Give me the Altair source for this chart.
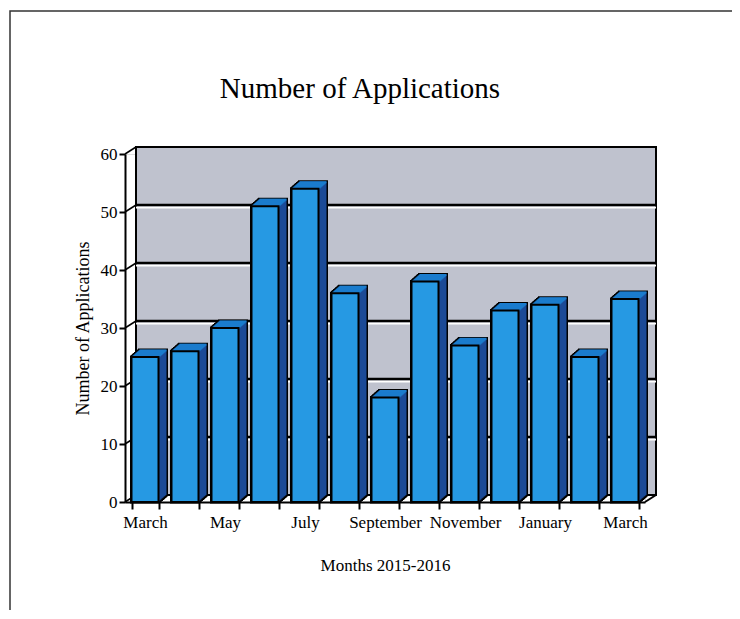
import json
import altair as alt
import pandas as pd

# ---------------- data ----------------
months = ["March", "April", "May", "June", "July", "August", "September",
          "October", "November", "December", "January", "February", "March"]
years = [2015, 2015, 2015, 2015, 2015, 2015, 2015, 2015, 2015, 2015, 2016, 2016, 2016]
values = [25, 26, 30, 51, 54, 36, 18, 38, 27, 33, 34, 25, 35]
y_ticks = [0, 10, 20, 30, 40, 50, 60]
labelled = ["March 2015", "May 2015", "July 2015", "September 2015",
            "November 2015", "January 2016", "March 2016"]
title_text = "Number of Applications"

keys = [f"{m} {y}" for m, y in zip(months, years)]
df = pd.DataFrame({"key": keys, "value": values, "zero": [0] * len(values)})
grid_df = pd.DataFrame({"v": y_ticks})
inner_grid_df = pd.DataFrame({"v": y_ticks[1:-1]})
wall_df = pd.DataFrame({"top": [y_ticks[-1]], "bottom": [y_ticks[0]]})

# ---------------- style ----------------
W, H = 520, 348
DX, DY = 11, 7          # depth of the back wall
BDX, BDY = 8, 7         # depth of each column
STEPS = 8
FONT = "Liberation Serif"
FRONT = "#2699e3"
TOP = "#1b7ccd"
SIDE = "#1b4a97"
WALL = "#bfc2ce"

xscale = alt.Scale(paddingInner=0.325, paddingOuter=0.1625)
yscale = alt.Scale(domain=[0, 60], nice=False, zero=True)

label_expr = ("indexof(%s, datum.value) >= 0 ? split(datum.value, ' ')[0] : ''"
              % json.dumps(labelled))

x_axis = alt.Axis(title="Months 2015-2016", labelExpr=label_expr, labelAngle=0,
                  tickBand="extent", labelOverlap=False, labelFont=FONT,
                  labelFontSize=17, labelColor="black", labelPadding=5,
                  titleFont=FONT, titleFontSize=17, titleFontWeight="normal",
                  titleColor="black", titlePadding=27, domainColor="black",
                  domainWidth=2, tickColor="black", tickWidth=2, tickSize=7,
                  grid=False)
y_axis = alt.Axis(values=y_ticks, title="Number of Applications", grid=False,
                  labelFont=FONT, labelFontSize=17, labelColor="black",
                  labelPadding=2, titleFont=FONT, titleFontSize=18,
                  titleFontWeight="normal", titleColor="black", titlePadding=8,
                  domainColor="black", domainWidth=2, tickColor="black",
                  tickWidth=2, tickSize=6)

X = alt.X("key:N", sort=keys, scale=xscale, axis=x_axis)
Yv = alt.Y("value:Q", scale=yscale, axis=y_axis)
Yg = alt.Y("v:Q", scale=yscale, axis=y_axis)

layers = []

# page frame (decorative)
layers.append(alt.Chart(wall_df).mark_rect(filled=False, stroke="#333", strokeWidth=1.5).encode(
    x=alt.value(-115), x2=alt.value(W + 300), y=alt.value(-143), y2=alt.value(H + 300)))

# chart title
layers.append(alt.Chart(wall_df).mark_text(
    text=title_text, font=FONT, fontSize=29, color="black",
    align="center", baseline="alphabetic").encode(
    x=alt.value(235), y=alt.value(-56)))

# back wall
layers.append(alt.Chart(wall_df).mark_rect(
    fill=WALL, stroke="black", strokeWidth=2,
    xOffset=DX, x2Offset=DX, yOffset=-DY, y2Offset=-DY).encode(
    x=alt.value(0), x2=alt.value(W),
    y=alt.Y("top:Q", scale=yscale, axis=y_axis), y2=alt.Y2("bottom")))

# grid lines on the back wall with white highlight
layers.append(alt.Chart(inner_grid_df).mark_rule(
    stroke="white", strokeWidth=2, xOffset=DX, x2Offset=DX, yOffset=-DY + 2.5).encode(
    y=Yg, x=alt.value(0), x2=alt.value(W)))
layers.append(alt.Chart(inner_grid_df).mark_rule(
    stroke="black", strokeWidth=2.5, xOffset=DX, x2Offset=DX, yOffset=-DY).encode(
    y=Yg, x=alt.value(0), x2=alt.value(W)))

# diagonal lines on the left wall
layers.append(alt.Chart(grid_df).mark_rule(stroke="black", strokeWidth=1.5, y2Offset=-DY).encode(
    y=Yg, y2=alt.Y2("v"), x=alt.value(0), x2=alt.value(DX)))
# bottom-right floor edge
layers.append(alt.Chart(wall_df).mark_rule(stroke="black", strokeWidth=2, y2Offset=-DY).encode(
    y=alt.Y("bottom:Q", scale=yscale, axis=y_axis), y2=alt.Y2("bottom"),
    x=alt.value(W), x2=alt.value(W + DX)))

# black silhouette (outline) of the 3D columns
for i in range(0, STEPS + 1):
    ox = i * BDX / STEPS
    oy = -i * BDY / STEPS
    layers.append(alt.Chart(df).mark_bar(
        fill="black", stroke="black", strokeWidth=3,
        xOffset=ox, x2Offset=ox, yOffset=oy, y2Offset=oy).encode(
        x=X, y=Yv, y2=alt.Y2("zero")))

# side faces
for i in range(1, STEPS + 1):
    ox = i * BDX / STEPS
    oy = -i * BDY / STEPS
    layers.append(alt.Chart(df).mark_bar(
        fill=SIDE, xOffset=ox, x2Offset=ox, yOffset=oy, y2Offset=oy).encode(
        x=X, y=Yv, y2=alt.Y2("zero")))

# top faces
for i in range(1, STEPS + 1):
    ox = i * BDX / STEPS
    layers.append(alt.Chart(df).mark_bar(
        fill=TOP, xOffset=ox, x2Offset=ox,
        yOffset=-i * BDY / STEPS - 0.6, y2Offset=-(i - 1) * BDY / STEPS + 0.6).encode(
        x=X, y=Yv, y2=alt.Y2("value")))

# front faces
layers.append(alt.Chart(df).mark_bar(fill=FRONT, stroke="black", strokeWidth=2).encode(
    x=X, y=Yv, y2=alt.Y2("zero")))

chart = alt.layer(*layers).properties(
    width=W, height=H,
    autosize=alt.AutoSizeParams(type="none"),
    padding={"left": 117, "top": 146, "right": 87, "bottom": 108},
).configure_view(stroke=None).configure(background="white")

chart.save("out.html", embed_options={"renderer": "svg", "actions": False})
